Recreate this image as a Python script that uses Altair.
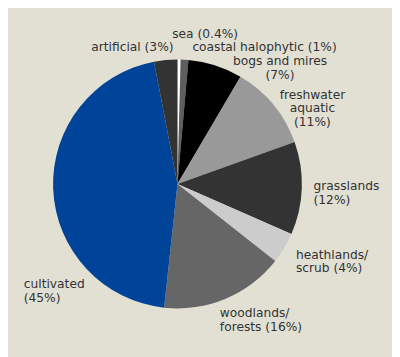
import altair as alt
import pandas as pd

# ---- data ----
categories = ["sea", "coastal halophytic", "bogs and mires", "freshwater aquatic",
              "grasslands", "heathlands/scrub", "woodlands/forests", "cultivated", "artificial"]
shares = [0.4, 1, 7, 11, 12, 4, 16, 45, 3]
labels = ["sea (0.4%)", "coastal halophytic (1%)", "bogs and mires\n(7%)",
          "freshwater\naquatic\n(11%)", "grasslands\n(12%)", "heathlands/\nscrub (4%)",
          "woodlands/\nforests (16%)", "cultivated\n(45%)", "artificial  (3%)"]

# ---- styles / layout ----
colors = ["#ffffff", "#5e5e5e", "#000000", "#999999", "#333333",
          "#cccccc", "#666666", "#00449a", "#333333"]
BG = "#e1e0d3"
FONT = "DejaVu Sans"
FONT_SIZE = 12.5
TEXT_COLOR = "#333333"
R = 127
# align, dx, dy relative to the slice's mid-angle point on the rim
label_layout = {
    "sea": ("left", -7, -22),
    "coastal halophytic": ("left", 8, -9),
    "bogs and mires": ("center", 66, 0),
    "freshwater aquatic": ("center", 40, -6),
    "grasslands": ("left", 12, 2),
    "heathlands/scrub": ("left", 12, 11),
    "woodlands/forests": ("left", -6, 19),
    "cultivated": ("left", -30, 101),
    "artificial": ("right", 8, -9),
}

total = sum(shares)
cum = []
run = 0.0
for s in shares:
    cum.append(run + s / 2)
    run += s

df = pd.DataFrame({
    "idx": list(range(len(categories))),
    "category": categories,
    "share": shares,
    "label": labels,
    "mid": cum,
})

base = alt.Chart(df)

pie = base.mark_arc(radius=R).encode(
    theta=alt.Theta("share:Q", stack=True, scale=alt.Scale(domain=[0, total])),
    color=alt.Color("category:N", scale=alt.Scale(domain=categories, range=colors), legend=None),
    order=alt.Order("idx:Q"),
)

texts = []
for cat, (align, dx, dy) in label_layout.items():
    t = base.transform_filter(alt.datum.category == cat).mark_text(
        radius=R, align=align, baseline="alphabetic", dx=dx, dy=dy,
        lineBreak="\n", lineHeight=14, font=FONT, fontSize=FONT_SIZE, color=TEXT_COLOR,
    ).encode(
        theta=alt.Theta("mid:Q", stack=False),
        text="label:N",
    )
    texts.append(t)

chart = alt.layer(pie, *texts).properties(
    width=342, height=340,
    padding={"left": 2, "top": 6, "right": 48, "bottom": 3},
    autosize=alt.AutoSizeParams(type="none"),
    background=BG,
).configure_view(stroke=None)

chart.save("out.html", embed_options={"renderer": "svg", "actions": False})
